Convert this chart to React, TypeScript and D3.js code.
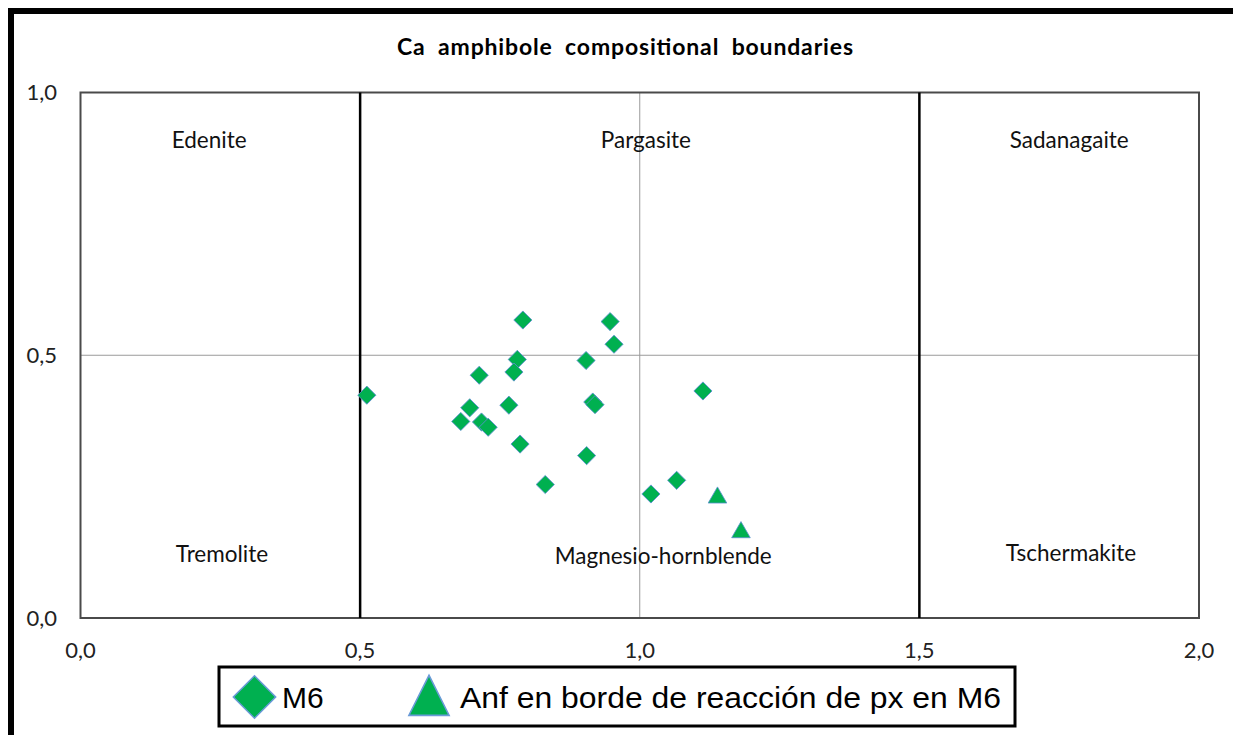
import React from "react";
import * as d3 from "d3";

const title = "Ca amphibole compositional boundaries";
const xTicks = [0, 0.5, 1.0, 1.5, 2.0];
const yTicks = [0, 0.5, 1.0];
const boundaryX = [0.5, 1.5];
const gridX = [1.0];
const gridY = [0.5];

const regionNames = ["Edenite", "Pargasite", "Sadanagaite", "Tremolite", "Magnesio-hornblende", "Tschermakite"];
const regionX = [0.23, 1.011, 1.768, 0.253, 1.042, 1.771];
const regionY = [0.91, 0.91, 0.91, 0.122, 0.118, 0.124];

const m6X = [0.512, 0.791, 0.947, 0.954, 0.781, 0.904, 0.713, 0.775, 1.113, 0.696, 0.766, 0.916, 0.92, 0.68, 0.717, 0.729, 0.786, 0.905, 0.831, 1.02, 1.066];
const m6Y = [0.424, 0.567, 0.564, 0.521, 0.492, 0.49, 0.462, 0.468, 0.432, 0.4, 0.405, 0.411, 0.406, 0.374, 0.373, 0.363, 0.331, 0.309, 0.254, 0.236, 0.262];

const anfX = [1.139, 1.181];
const anfY = [0.229, 0.163];

const legendLabels = ["M6", "Anf en borde de reacción de px en M6"];

const W = 1233;
const H = 735;
const FILL = "#00B050";
const EDGE = "#5B8FD0";
const FONT = "Lato, 'Open Sans', sans-serif";

export default function App() {
  const x = d3.scaleLinear().domain([0, 2]).range([80.5, 1199]);
  const y = d3.scaleLinear().domain([0, 1]).range([618, 92.5]);
  const diamond = d3.symbol().type(d3.symbolSquare).size(165)();
  const triangle = d3.symbol().type(d3.symbolTriangle).size(150)();
  const bigDiamond = d3.symbol().type(d3.symbolSquare).size(900)();
  const bigTriangle = d3.symbol().type(d3.symbolTriangle).size(700)();
  const fmt = (v: number) => v.toFixed(1).replace(".", ",");

  return (
    <div style={{ position: "absolute", left: 0, top: 0 }}>
      <svg width={W} height={H} style={{ display: "block" }}>
        <rect x={0} y={0} width={W} height={H} fill="#fff" />
        <rect x={11} y={11} width={W + 40} height={H + 40} fill="none" stroke="#000" strokeWidth={6} />
        <text x={625} y={47} dy="0.36em" textAnchor="middle" fontFamily={FONT} fontWeight="bold" fontSize={23} wordSpacing={6} textLength={456} lengthAdjust="spacing" fill="#000">{title}</text>

        {gridX.map((g) => (
          <line key={"gx" + g} x1={x(g)} x2={x(g)} y1={y(0)} y2={y(1)} stroke="#9a9a9a" strokeWidth={1} />
        ))}
        {gridY.map((g) => (
          <line key={"gy" + g} x1={x(0)} x2={x(2)} y1={y(g)} y2={y(g)} stroke="#9a9a9a" strokeWidth={1} />
        ))}
        <rect x={x(0)} y={y(1)} width={x(2) - x(0)} height={y(0) - y(1)} fill="none" stroke="#4a4a4a" strokeWidth={2} />
        {boundaryX.map((b) => (
          <line key={"b" + b} x1={x(b)} x2={x(b)} y1={y(0)} y2={y(1)} stroke="#000" strokeWidth={2.5} />
        ))}

        {yTicks.map((t) => (
          <text key={"yt" + t} x={57} y={y(t)} dy="0.35em" textAnchor="end" fontFamily={FONT} fontSize={22} fill="#222">{fmt(t)}</text>
        ))}
        {xTicks.map((t) => (
          <text key={"xt" + t} x={x(t)} y={650} dy="0.35em" textAnchor="middle" fontFamily={FONT} fontSize={22} fill="#222">{fmt(t)}</text>
        ))}

        {regionNames.map((n, i) => (
          <text key={n} x={x(regionX[i])} y={y(regionY[i])} dy="0.35em" textAnchor="middle" fontFamily={FONT} fontSize={22.5} fill="#111">{n}</text>
        ))}

        {m6X.map((v, i) => (
          <path key={"m" + i} d={diamond} transform={`translate(${x(v)},${y(m6Y[i])}) rotate(45)`} fill={FILL} stroke={EDGE} strokeWidth={0.8} />
        ))}
        {anfX.map((v, i) => (
          <path key={"a" + i} d={triangle} transform={`translate(${x(v)},${y(anfY[i])})`} fill={FILL} stroke={EDGE} strokeWidth={0.8} />
        ))}

        <rect x={219} y={667} width={796} height={59} fill="#fff" stroke="#000" strokeWidth={3} />
        <path d={bigDiamond} transform="translate(254.5,697) rotate(45)" fill={FILL} stroke="#6A9BD8" strokeWidth={1.5} />
        <text x={282} y={697} dy="0.36em" fontFamily="'Liberation Sans', Arial, sans-serif" fontSize={30} fill="#000">{legendLabels[0]}</text>
        <path d={bigTriangle} transform="translate(429,702) scale(1,1.15)" fill={FILL} stroke="#6A9BD8" strokeWidth={1.5} />
        <text x={460} y={697} dy="0.36em" fontFamily="'Liberation Sans', Arial, sans-serif" fontSize={30} textLength={541} lengthAdjust="spacingAndGlyphs" fill="#000">{legendLabels[1]}</text>
      </svg>
    </div>
  );
}
